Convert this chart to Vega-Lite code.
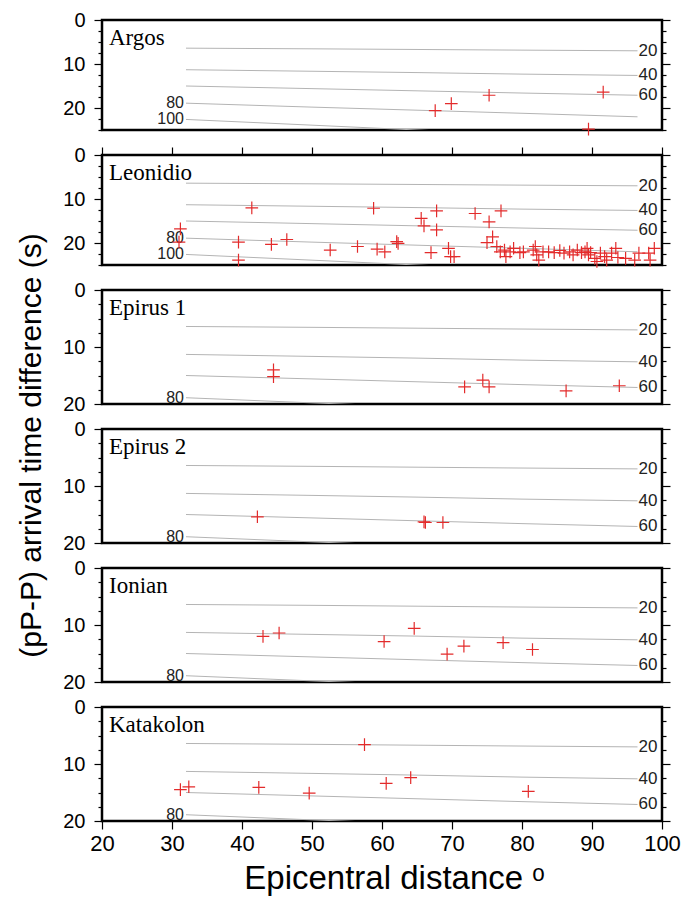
{
  "$schema": "https://vega.github.io/schema/vega-lite/v6.json",
  "background": "white",
  "padding": {"left": 14, "top": 8, "right": 5, "bottom": 5},
  "spacing": 25,
  "bounds": "flush",
  "config": {
    "view": {"stroke": "black", "strokeWidth": 2.5},
    "axis": {"labelFont": "Liberation Sans", "titleFont": "Liberation Sans", "labelColor": "black", "titleColor": "black", "tickColor": "black", "tickWidth": 1.2, "titleFontWeight": "normal", "grid": false, "domain": false, "labelFlush": false, "labelOverlap": false},
    "text": {"font": "Liberation Sans"}
  },
  "datasets": {
    "contours": [
      {"depth": 20, "dist": 32, "t": 6.4}, {"depth": 20, "dist": 50, "t": 6.55}, {"depth": 20, "dist": 65, "t": 6.7}, {"depth": 20, "dist": 80, "t": 6.85}, {"depth": 20, "dist": 96.5, "t": 7.0},
      {"depth": 40, "dist": 32, "t": 11.3}, {"depth": 40, "dist": 50, "t": 11.65}, {"depth": 40, "dist": 65, "t": 11.95}, {"depth": 40, "dist": 80, "t": 12.3}, {"depth": 40, "dist": 96.5, "t": 12.6},
      {"depth": 60, "dist": 32, "t": 15.0}, {"depth": 60, "dist": 50, "t": 15.6}, {"depth": 60, "dist": 65, "t": 16.1}, {"depth": 60, "dist": 80, "t": 16.6}, {"depth": 60, "dist": 96.5, "t": 17.1},
      {"depth": 80, "dist": 32, "t": 18.9}, {"depth": 80, "dist": 50, "t": 19.8}, {"depth": 80, "dist": 65, "t": 20.5}, {"depth": 80, "dist": 80, "t": 21.2}, {"depth": 80, "dist": 96.5, "t": 22.0},
      {"depth": 100, "dist": 32, "t": 22.6}, {"depth": 100, "dist": 50, "t": 23.9}, {"depth": 100, "dist": 65, "t": 25.0}, {"depth": 100, "dist": 80, "t": 26.0}, {"depth": 100, "dist": 96.5, "t": 27.0}
    ],
    "labels": [
      {"depth": 80, "dist": 32, "t": 18.9, "side": "left"},
      {"depth": 100, "dist": 32, "t": 22.6, "side": "left"},
      {"depth": 20, "dist": 96.5, "t": 7.0, "side": "right"},
      {"depth": 40, "dist": 96.5, "t": 12.6, "side": "right"},
      {"depth": 60, "dist": 96.5, "t": 17.1, "side": "right"}
    ]
  },
  "vconcat": [
    {
      "width": 560, "height": 110,
      "layer": [
        {"data": {"name": "contours"}, "mark": {"type": "line", "color": "#b4b4b4", "strokeWidth": 1, "clip": true},
         "encoding": {"x": {"field": "dist", "type": "quantitative", "scale": {"domain": [20, 100], "nice": false}, "axis": null},
          "y": {"field": "t", "type": "quantitative", "scale": {"domain": [0, 25], "reverse": true, "nice": false, "zero": false},
            "axis": {"orient": "left", "title": null, "values": [0, 2.5, 5, 7.5, 10, 12.5, 15, 17.5, 20, 22.5, 25], "labelExpr": "datum.value % 10 === 0 ? datum.label : ''", "tickSize": {"expr": "datum.value % 10 === 0 ? 8 : 4"}, "labelFontSize": 20, "labelPadding": 9}},
          "detail": {"field": "depth"}}},
        {"data": {"name": "labels"}, "transform": [{"filter": "datum.side === 'left' && datum.t <= 25"}], "mark": {"type": "text", "align": "right", "baseline": "middle", "dx": -2, "fontSize": 16, "color": "#222"},
         "encoding": {"x": {"field": "dist", "type": "quantitative", "axis": null}, "y": {"field": "t", "type": "quantitative", "axis": null}, "text": {"field": "depth", "type": "nominal"}}},
        {"data": {"name": "labels"}, "transform": [{"filter": "datum.side === 'right' && datum.t <= 25"}], "mark": {"type": "text", "align": "left", "baseline": "middle", "dx": 1, "fontSize": 17, "color": "#222"},
         "encoding": {"x": {"field": "dist", "type": "quantitative", "axis": null}, "y": {"field": "t", "type": "quantitative", "axis": null}, "text": {"field": "depth", "type": "nominal"}}},
        {"data": {"values": [{"name": "Argos"}]}, "mark": {"type": "text", "align": "left", "baseline": "alphabetic", "font": "Liberation Serif", "fontSize": 23, "color": "black"},
         "encoding": {"x": {"datum": 21.0, "type": "quantitative", "axis": null}, "y": {"datum": 5.7, "type": "quantitative", "axis": null}, "text": {"field": "name", "type": "nominal"}}},
        {"data": {"values": [
          {"dist": 67.6, "t": 20.6}, {"dist": 69.9, "t": 19.0}, {"dist": 75.3, "t": 17.1}, {"dist": 91.6, "t": 16.4}, {"dist": 89.5, "t": 24.8}
         ]},
         "mark": {"type": "point", "shape": "M-1,0H1M0,-1V1", "filled": false, "stroke": "#e32b2b", "strokeWidth": 1.2, "size": 160, "opacity": 1},
         "encoding": {"x": {"field": "dist", "type": "quantitative", "axis": null},
          "y": {"field": "t", "type": "quantitative", "axis": {"orient": "right", "title": null, "labels": false, "values": [0, 2.5, 5, 7.5, 10, 12.5, 15, 17.5, 20, 22.5, 25], "tickSize": {"expr": "datum.value % 10 === 0 ? 8 : 4"}}}}}
      ],
      "resolve": {"axis": {"y": "independent"}}
    },
    {
      "width": 560, "height": 110,
      "layer": [
        {"data": {"name": "contours"}, "mark": {"type": "line", "color": "#b4b4b4", "strokeWidth": 1, "clip": true},
         "encoding": {"x": {"field": "dist", "type": "quantitative", "scale": {"domain": [20, 100], "nice": false},
            "axis": {"orient": "top", "title": null, "labels": false, "values": [20, 22.5, 25, 27.5, 30, 32.5, 35, 37.5, 40, 42.5, 45, 47.5, 50, 52.5, 55, 57.5, 60, 62.5, 65, 67.5, 70, 72.5, 75, 77.5, 80, 82.5, 85, 87.5, 90, 92.5, 95, 97.5, 100], "tickSize": {"expr": "datum.value % 10 === 0 ? 8 : 4"}}},
          "y": {"field": "t", "type": "quantitative", "scale": {"domain": [0, 25], "reverse": true, "nice": false, "zero": false},
            "axis": {"orient": "left", "title": null, "values": [0, 2.5, 5, 7.5, 10, 12.5, 15, 17.5, 20, 22.5, 25], "labelExpr": "datum.value % 10 === 0 ? datum.label : ''", "tickSize": {"expr": "datum.value % 10 === 0 ? 8 : 4"}, "labelFontSize": 20, "labelPadding": 9}},
          "detail": {"field": "depth"}}},
        {"data": {"name": "labels"}, "transform": [{"filter": "datum.side === 'left' && datum.t <= 25"}], "mark": {"type": "text", "align": "right", "baseline": "middle", "dx": -2, "fontSize": 16, "color": "#222"},
         "encoding": {"x": {"field": "dist", "type": "quantitative"}, "y": {"field": "t", "type": "quantitative", "axis": null}, "text": {"field": "depth", "type": "nominal"}}},
        {"data": {"name": "labels"}, "transform": [{"filter": "datum.side === 'right' && datum.t <= 25"}], "mark": {"type": "text", "align": "left", "baseline": "middle", "dx": 1, "fontSize": 17, "color": "#222"},
         "encoding": {"x": {"field": "dist", "type": "quantitative"}, "y": {"field": "t", "type": "quantitative", "axis": null}, "text": {"field": "depth", "type": "nominal"}}},
        {"data": {"values": [{"name": "Leonidio"}]}, "mark": {"type": "text", "align": "left", "baseline": "alphabetic", "font": "Liberation Serif", "fontSize": 23, "color": "black"},
         "encoding": {"x": {"datum": 21.0, "type": "quantitative"}, "y": {"datum": 5.7, "type": "quantitative", "axis": null}, "text": {"field": "name", "type": "nominal"}}},
        {"data": {"values": [
          {"dist": 31.2, "t": 16.8}, {"dist": 31.0, "t": 19.8}, {"dist": 41.4, "t": 12.0}, {"dist": 39.5, "t": 19.8}, {"dist": 39.5, "t": 23.9},
          {"dist": 44.2, "t": 20.3}, {"dist": 46.4, "t": 19.2}, {"dist": 52.6, "t": 21.6}, {"dist": 56.5, "t": 20.8}, {"dist": 58.8, "t": 12.1},
          {"dist": 59.3, "t": 21.4}, {"dist": 60.4, "t": 22.0}, {"dist": 62.1, "t": 19.7}, {"dist": 62.3, "t": 20.1}, {"dist": 65.6, "t": 14.4},
          {"dist": 66.0, "t": 16.1}, {"dist": 67.8, "t": 12.7}, {"dist": 67.8, "t": 17.0}, {"dist": 67.0, "t": 22.2}, {"dist": 69.5, "t": 21.2},
          {"dist": 69.8, "t": 23.1}, {"dist": 70.3, "t": 23.1}, {"dist": 73.3, "t": 13.3}, {"dist": 75.3, "t": 15.2}, {"dist": 77.0, "t": 12.7},
          {"dist": 75.8, "t": 18.6}, {"dist": 75.0, "t": 19.9},
          {"dist": 76.4, "t": 20.8}, {"dist": 76.9, "t": 22.0}, {"dist": 77.5, "t": 21.6}, {"dist": 77.7, "t": 23.1}, {"dist": 78.3, "t": 22.0},
          {"dist": 78.8, "t": 21.2}, {"dist": 79.7, "t": 22.2}, {"dist": 80.2, "t": 22.0}, {"dist": 81.6, "t": 21.6}, {"dist": 81.9, "t": 20.8},
          {"dist": 82.1, "t": 22.7}, {"dist": 82.4, "t": 23.9}, {"dist": 83.0, "t": 22.0}, {"dist": 83.8, "t": 22.0}, {"dist": 84.6, "t": 22.2},
          {"dist": 85.4, "t": 21.7}, {"dist": 86.0, "t": 22.3}, {"dist": 86.8, "t": 22.0}, {"dist": 87.3, "t": 22.7}, {"dist": 87.9, "t": 21.6},
          {"dist": 88.5, "t": 22.2}, {"dist": 89.0, "t": 22.0}, {"dist": 89.3, "t": 21.2}, {"dist": 89.5, "t": 22.7}, {"dist": 89.8, "t": 22.2},
          {"dist": 90.4, "t": 23.5}, {"dist": 90.7, "t": 24.2}, {"dist": 91.2, "t": 22.3}, {"dist": 91.8, "t": 23.1}, {"dist": 92.1, "t": 23.9},
          {"dist": 92.8, "t": 22.3}, {"dist": 93.4, "t": 21.2}, {"dist": 93.7, "t": 23.3}, {"dist": 94.8, "t": 23.5}, {"dist": 96.1, "t": 23.9},
          {"dist": 96.7, "t": 22.3}, {"dist": 98.1, "t": 22.3}, {"dist": 98.3, "t": 23.9}, {"dist": 98.9, "t": 21.2}
         ]},
         "mark": {"type": "point", "shape": "M-1,0H1M0,-1V1", "filled": false, "stroke": "#e32b2b", "strokeWidth": 1.2, "size": 160, "opacity": 1},
         "encoding": {"x": {"field": "dist", "type": "quantitative"},
          "y": {"field": "t", "type": "quantitative", "axis": {"orient": "right", "title": null, "labels": false, "values": [0, 2.5, 5, 7.5, 10, 12.5, 15, 17.5, 20, 22.5, 25], "tickSize": {"expr": "datum.value % 10 === 0 ? 8 : 4"}}}}}
      ],
      "resolve": {"axis": {"y": "independent"}}
    },
    {
      "width": 560, "height": 114,
      "layer": [
        {"data": {"name": "contours"}, "mark": {"type": "line", "color": "#b4b4b4", "strokeWidth": 1, "clip": true},
         "encoding": {"x": {"field": "dist", "type": "quantitative", "scale": {"domain": [20, 100], "nice": false}, "axis": null},
          "y": {"field": "t", "type": "quantitative", "scale": {"domain": [0, 20], "reverse": true, "nice": false, "zero": false},
            "axis": {"orient": "left", "title": null, "values": [0, 2.5, 5, 7.5, 10, 12.5, 15, 17.5, 20], "labelExpr": "datum.value % 10 === 0 ? datum.label : ''", "tickSize": {"expr": "datum.value % 10 === 0 ? 8 : 4"}, "labelFontSize": 20, "labelPadding": 9}},
          "detail": {"field": "depth"}}},
        {"data": {"name": "labels"}, "transform": [{"filter": "datum.side === 'left' && datum.t <= 20"}], "mark": {"type": "text", "align": "right", "baseline": "middle", "dx": -2, "fontSize": 16, "color": "#222"},
         "encoding": {"x": {"field": "dist", "type": "quantitative", "axis": null}, "y": {"field": "t", "type": "quantitative", "axis": null}, "text": {"field": "depth", "type": "nominal"}}},
        {"data": {"name": "labels"}, "transform": [{"filter": "datum.side === 'right' && datum.t <= 20"}], "mark": {"type": "text", "align": "left", "baseline": "middle", "dx": 1, "fontSize": 17, "color": "#222"},
         "encoding": {"x": {"field": "dist", "type": "quantitative", "axis": null}, "y": {"field": "t", "type": "quantitative", "axis": null}, "text": {"field": "depth", "type": "nominal"}}},
        {"data": {"values": [{"name": "Epirus 1"}]}, "mark": {"type": "text", "align": "left", "baseline": "alphabetic", "font": "Liberation Serif", "fontSize": 23, "color": "black"},
         "encoding": {"x": {"datum": 21.0, "type": "quantitative", "axis": null}, "y": {"datum": 4.4, "type": "quantitative", "axis": null}, "text": {"field": "name", "type": "nominal"}}},
        {"data": {"values": [
          {"dist": 44.5, "t": 14.0}, {"dist": 44.5, "t": 15.2}, {"dist": 71.8, "t": 17.0}, {"dist": 74.4, "t": 15.8}, {"dist": 75.3, "t": 17.0}, {"dist": 86.3, "t": 17.7}, {"dist": 93.9, "t": 16.8}
         ]},
         "mark": {"type": "point", "shape": "M-1,0H1M0,-1V1", "filled": false, "stroke": "#e32b2b", "strokeWidth": 1.2, "size": 160, "opacity": 1},
         "encoding": {"x": {"field": "dist", "type": "quantitative", "axis": null},
          "y": {"field": "t", "type": "quantitative", "axis": {"orient": "right", "title": null, "labels": false, "values": [0, 2.5, 5, 7.5, 10, 12.5, 15, 17.5, 20], "tickSize": {"expr": "datum.value % 10 === 0 ? 8 : 4"}}}}}
      ],
      "resolve": {"axis": {"y": "independent"}}
    },
    {
      "width": 560, "height": 114,
      "layer": [
        {"data": {"name": "contours"}, "mark": {"type": "line", "color": "#b4b4b4", "strokeWidth": 1, "clip": true},
         "encoding": {"x": {"field": "dist", "type": "quantitative", "scale": {"domain": [20, 100], "nice": false}, "axis": null},
          "y": {"field": "t", "type": "quantitative", "scale": {"domain": [0, 20], "reverse": true, "nice": false, "zero": false},
            "axis": {"orient": "left", "title": "(pP-P) arrival time difference (s)", "titleFontSize": 30, "titleAngle": -90, "titleAlign": "center", "titleBaseline": "middle", "titleX": -71, "titleY": 16, "values": [0, 2.5, 5, 7.5, 10, 12.5, 15, 17.5, 20], "labelExpr": "datum.value % 10 === 0 ? datum.label : ''", "tickSize": {"expr": "datum.value % 10 === 0 ? 8 : 4"}, "labelFontSize": 20, "labelPadding": 9}},
          "detail": {"field": "depth"}}},
        {"data": {"name": "labels"}, "transform": [{"filter": "datum.side === 'left' && datum.t <= 20"}], "mark": {"type": "text", "align": "right", "baseline": "middle", "dx": -2, "fontSize": 16, "color": "#222"},
         "encoding": {"x": {"field": "dist", "type": "quantitative", "axis": null}, "y": {"field": "t", "type": "quantitative", "axis": null}, "text": {"field": "depth", "type": "nominal"}}},
        {"data": {"name": "labels"}, "transform": [{"filter": "datum.side === 'right' && datum.t <= 20"}], "mark": {"type": "text", "align": "left", "baseline": "middle", "dx": 1, "fontSize": 17, "color": "#222"},
         "encoding": {"x": {"field": "dist", "type": "quantitative", "axis": null}, "y": {"field": "t", "type": "quantitative", "axis": null}, "text": {"field": "depth", "type": "nominal"}}},
        {"data": {"values": [{"name": "Epirus 2"}]}, "mark": {"type": "text", "align": "left", "baseline": "alphabetic", "font": "Liberation Serif", "fontSize": 23, "color": "black"},
         "encoding": {"x": {"datum": 21.0, "type": "quantitative", "axis": null}, "y": {"datum": 4.4, "type": "quantitative", "axis": null}, "text": {"field": "name", "type": "nominal"}}},
        {"data": {"values": [
          {"dist": 42.2, "t": 15.4}, {"dist": 66.0, "t": 16.3}, {"dist": 66.2, "t": 16.4}, {"dist": 68.7, "t": 16.4}
         ]},
         "mark": {"type": "point", "shape": "M-1,0H1M0,-1V1", "filled": false, "stroke": "#e32b2b", "strokeWidth": 1.2, "size": 160, "opacity": 1},
         "encoding": {"x": {"field": "dist", "type": "quantitative", "axis": null},
          "y": {"field": "t", "type": "quantitative", "axis": {"orient": "right", "title": null, "labels": false, "values": [0, 2.5, 5, 7.5, 10, 12.5, 15, 17.5, 20], "tickSize": {"expr": "datum.value % 10 === 0 ? 8 : 4"}}}}}
      ],
      "resolve": {"axis": {"y": "independent"}}
    },
    {
      "width": 560, "height": 114,
      "layer": [
        {"data": {"name": "contours"}, "mark": {"type": "line", "color": "#b4b4b4", "strokeWidth": 1, "clip": true},
         "encoding": {"x": {"field": "dist", "type": "quantitative", "scale": {"domain": [20, 100], "nice": false}, "axis": null},
          "y": {"field": "t", "type": "quantitative", "scale": {"domain": [0, 20], "reverse": true, "nice": false, "zero": false},
            "axis": {"orient": "left", "title": null, "values": [0, 2.5, 5, 7.5, 10, 12.5, 15, 17.5, 20], "labelExpr": "datum.value % 10 === 0 ? datum.label : ''", "tickSize": {"expr": "datum.value % 10 === 0 ? 8 : 4"}, "labelFontSize": 20, "labelPadding": 9}},
          "detail": {"field": "depth"}}},
        {"data": {"name": "labels"}, "transform": [{"filter": "datum.side === 'left' && datum.t <= 20"}], "mark": {"type": "text", "align": "right", "baseline": "middle", "dx": -2, "fontSize": 16, "color": "#222"},
         "encoding": {"x": {"field": "dist", "type": "quantitative", "axis": null}, "y": {"field": "t", "type": "quantitative", "axis": null}, "text": {"field": "depth", "type": "nominal"}}},
        {"data": {"name": "labels"}, "transform": [{"filter": "datum.side === 'right' && datum.t <= 20"}], "mark": {"type": "text", "align": "left", "baseline": "middle", "dx": 1, "fontSize": 17, "color": "#222"},
         "encoding": {"x": {"field": "dist", "type": "quantitative", "axis": null}, "y": {"field": "t", "type": "quantitative", "axis": null}, "text": {"field": "depth", "type": "nominal"}}},
        {"data": {"values": [{"name": "Ionian"}]}, "mark": {"type": "text", "align": "left", "baseline": "alphabetic", "font": "Liberation Serif", "fontSize": 23, "color": "black"},
         "encoding": {"x": {"datum": 21.0, "type": "quantitative", "axis": null}, "y": {"datum": 4.4, "type": "quantitative", "axis": null}, "text": {"field": "name", "type": "nominal"}}},
        {"data": {"values": [
          {"dist": 43.0, "t": 12.0}, {"dist": 45.3, "t": 11.4}, {"dist": 60.3, "t": 12.9}, {"dist": 64.6, "t": 10.6}, {"dist": 69.3, "t": 15.1}, {"dist": 71.7, "t": 13.7}, {"dist": 77.3, "t": 13.1}, {"dist": 81.5, "t": 14.3}
         ]},
         "mark": {"type": "point", "shape": "M-1,0H1M0,-1V1", "filled": false, "stroke": "#e32b2b", "strokeWidth": 1.2, "size": 160, "opacity": 1},
         "encoding": {"x": {"field": "dist", "type": "quantitative", "axis": null},
          "y": {"field": "t", "type": "quantitative", "axis": {"orient": "right", "title": null, "labels": false, "values": [0, 2.5, 5, 7.5, 10, 12.5, 15, 17.5, 20], "tickSize": {"expr": "datum.value % 10 === 0 ? 8 : 4"}}}}}
      ],
      "resolve": {"axis": {"y": "independent"}}
    },
    {
      "width": 560, "height": 114,
      "layer": [
        {"data": {"name": "contours"}, "mark": {"type": "line", "color": "#b4b4b4", "strokeWidth": 1, "clip": true},
         "encoding": {"x": {"field": "dist", "type": "quantitative", "scale": {"domain": [20, 100], "nice": false},
            "axis": {"orient": "bottom", "title": "Epicentral distance ᵒ", "titleFontSize": 33, "titlePadding": 8, "titleX": 292, "values": [20, 22.5, 25, 27.5, 30, 32.5, 35, 37.5, 40, 42.5, 45, 47.5, 50, 52.5, 55, 57.5, 60, 62.5, 65, 67.5, 70, 72.5, 75, 77.5, 80, 82.5, 85, 87.5, 90, 92.5, 95, 97.5, 100], "labelExpr": "datum.value % 10 === 0 ? datum.label : ''", "tickSize": {"expr": "datum.value % 10 === 0 ? 8 : 4"}, "labelFontSize": 22, "labelPadding": 4}},
          "y": {"field": "t", "type": "quantitative", "scale": {"domain": [0, 20], "reverse": true, "nice": false, "zero": false},
            "axis": {"orient": "left", "title": null, "values": [0, 2.5, 5, 7.5, 10, 12.5, 15, 17.5, 20], "labelExpr": "datum.value % 10 === 0 ? datum.label : ''", "tickSize": {"expr": "datum.value % 10 === 0 ? 8 : 4"}, "labelFontSize": 20, "labelPadding": 9}},
          "detail": {"field": "depth"}}},
        {"data": {"name": "labels"}, "transform": [{"filter": "datum.side === 'left' && datum.t <= 20"}], "mark": {"type": "text", "align": "right", "baseline": "middle", "dx": -2, "fontSize": 16, "color": "#222"},
         "encoding": {"x": {"field": "dist", "type": "quantitative"}, "y": {"field": "t", "type": "quantitative", "axis": null}, "text": {"field": "depth", "type": "nominal"}}},
        {"data": {"name": "labels"}, "transform": [{"filter": "datum.side === 'right' && datum.t <= 20"}], "mark": {"type": "text", "align": "left", "baseline": "middle", "dx": 1, "fontSize": 17, "color": "#222"},
         "encoding": {"x": {"field": "dist", "type": "quantitative"}, "y": {"field": "t", "type": "quantitative", "axis": null}, "text": {"field": "depth", "type": "nominal"}}},
        {"data": {"values": [{"name": "Katakolon"}]}, "mark": {"type": "text", "align": "left", "baseline": "alphabetic", "font": "Liberation Serif", "fontSize": 23, "color": "black"},
         "encoding": {"x": {"datum": 21.0, "type": "quantitative"}, "y": {"datum": 4.4, "type": "quantitative", "axis": null}, "text": {"field": "name", "type": "nominal"}}},
        {"data": {"values": [
          {"dist": 57.5, "t": 6.6}, {"dist": 31.2, "t": 14.5}, {"dist": 32.4, "t": 14.0}, {"dist": 42.4, "t": 14.1}, {"dist": 49.6, "t": 15.1}, {"dist": 60.6, "t": 13.4}, {"dist": 64.1, "t": 12.4}, {"dist": 80.9, "t": 14.8}
         ]},
         "mark": {"type": "point", "shape": "M-1,0H1M0,-1V1", "filled": false, "stroke": "#e32b2b", "strokeWidth": 1.2, "size": 160, "opacity": 1},
         "encoding": {"x": {"field": "dist", "type": "quantitative"},
          "y": {"field": "t", "type": "quantitative", "axis": {"orient": "right", "title": null, "labels": false, "values": [0, 2.5, 5, 7.5, 10, 12.5, 15, 17.5, 20], "tickSize": {"expr": "datum.value % 10 === 0 ? 8 : 4"}}}}}
      ],
      "resolve": {"axis": {"y": "independent"}}
    }
  ]
}
